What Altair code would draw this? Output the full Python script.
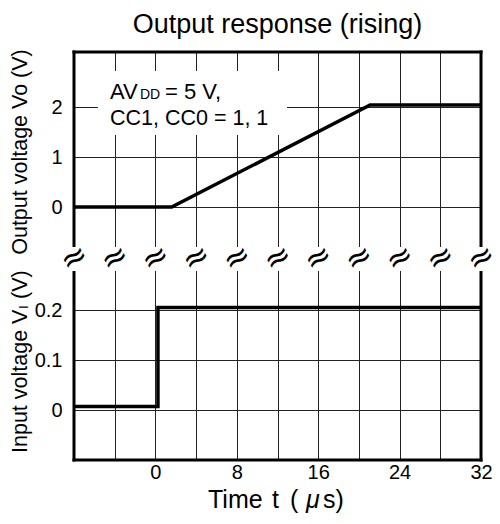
import altair as alt
import pandas as pd

# ---- data ----
t_out = [-8, 1.6, 21.1, 32]
v_out = [0.0, 0.0, 2.04, 2.04]
t_in = [-8, 0.25, 0.25, 32]
v_in = [0.007, 0.007, 0.205, 0.205]

x_grid = list(range(-8, 33, 4))
x_labels = [0, 8, 16, 24, 32]
out_ticks = [0, 1, 2]
out_tick_labels = ["0", "1", "2"]
in_ticks = [0, 0.1, 0.2]
in_tick_labels = ["0", "0.1", "0.2"]

# broken axis: upper panel in volts, lower panel scaled x10 and shifted
IN_OFFSET = -4.06
IN_GAIN = 10
Y_DOMAIN = [-5.06, 3.1]
X_DOMAIN = [-8, 32]

def to_y_in(v):
    return round(IN_OFFSET + v * IN_GAIN, 6)

FONT = "Liberation Sans"

out_df = pd.DataFrame({"t": t_out, "Y": v_out, "i": range(len(t_out))})
in_df = pd.DataFrame({"t": t_in, "Y": [to_y_in(v) for v in v_in], "i": range(len(t_in))})
one = pd.DataFrame({"k": [0]})

y_vals = [float(v) for v in out_ticks] + [to_y_in(v) for v in in_ticks]
y_labs = out_tick_labels + in_tick_labels
label_expr = ""
for v, l in zip(y_vals, y_labs):
    label_expr += f"abs(datum.value - ({v})) < 1e-6 ? '{l}' : "
label_expr += "''"

xs = alt.Scale(domain=X_DOMAIN, nice=False, zero=False)
ys = alt.Scale(domain=Y_DOMAIN, nice=False, zero=False)

x_axis = alt.Axis(
    values=x_grid, grid=True, gridColor="#222", gridWidth=1, domain=False, ticks=False,
    labelExpr="indexof([" + ",".join(str(v) for v in x_labels) + "], datum.value) >= 0 ? datum.label : ''",
    labelFont=FONT, labelFontSize=20, labelColor="#000", labelPadding=2, labelFlush=False,
    title=None,
)
y_axis = alt.Axis(
    values=y_vals, grid=True, gridColor="#222", gridWidth=1, domain=False, ticks=False,
    labelExpr=label_expr, labelFont=FONT, labelFontSize=20, labelColor="#000",
    labelPadding=12, title=None,
)

base_grid = alt.Chart(out_df).mark_line(opacity=0).encode(
    x=alt.X("t:Q", scale=xs, axis=x_axis),
    y=alt.Y("Y:Q", scale=ys, axis=y_axis),
)

line_out = alt.Chart(out_df).mark_line(color="#000", strokeWidth=3.5).encode(
    x=alt.X("t:Q", scale=xs), y=alt.Y("Y:Q", scale=ys), order="i:Q"
)
line_in = alt.Chart(in_df).mark_line(color="#000", strokeWidth=3.5).encode(
    x=alt.X("t:Q", scale=xs), y=alt.Y("Y:Q", scale=ys), order="i:Q"
)

frame_df = pd.DataFrame({
    "x": [X_DOMAIN[0], X_DOMAIN[1], X_DOMAIN[0], X_DOMAIN[0]],
    "x2": [X_DOMAIN[0], X_DOMAIN[1], X_DOMAIN[1], X_DOMAIN[1]],
    "y": [Y_DOMAIN[0], Y_DOMAIN[0], Y_DOMAIN[1], Y_DOMAIN[0]],
    "y2": [Y_DOMAIN[1], Y_DOMAIN[1], Y_DOMAIN[1], Y_DOMAIN[0]],
})
frame = alt.Chart(frame_df).mark_rule(color="#000", strokeWidth=3, strokeCap="square").encode(
    x=alt.X("x:Q", scale=xs), x2="x2:Q", y=alt.Y("y:Q", scale=ys), y2="y2:Q"
)

band = alt.Chart(one).mark_rect(color="white").encode(
    x=alt.value(-4), x2=alt.value(411),
    y=alt.Y(datum=-0.8, scale=ys), y2=alt.Y2(datum=-1.28),
)

sq_df = pd.DataFrame({"t": x_grid})
squig = alt.Chart(sq_df).mark_text(
    text="≈", font="DejaVu Sans", fontSize=32, angle=330, color="#000", baseline="middle"
).encode(x=alt.X("t:Q", scale=xs), y=alt.Y(datum=-1.02, scale=ys))

box = alt.Chart(one).mark_rect(color="white").encode(
    x=alt.value(24), x2=alt.value(213), y=alt.value(19), y2=alt.value(83)
)

def txt(s, x, y, size=22, style="normal"):
    return alt.Chart(one).mark_text(
        text=s, font=FONT, fontSize=size, align="left", baseline="alphabetic",
        color="#000", fontStyle=style,
    ).encode(x=alt.value(x), y=alt.value(y))

ann = [
    txt("AV", 36, 47),
    txt("DD", 66, 47, size=14),
    txt("= 5 V,", 91, 47),
    txt("CC1, CC0 = 1, 1", 36, 73, size=21.5),
]

# x axis title "Time t ( μs)" with italic mu
TY = 456
xtitle = [
    txt("Time", 134, TY, size=25),
    txt("t", 198, TY, size=25),
    txt("(", 216, TY, size=25),
    txt("μ", 232, TY, size=25, style="italic"),
    txt("s)", 249, TY, size=25),
]

ytitle_up = alt.Chart(one).mark_text(
    text="Output voltage Vo (V)", font=FONT, fontSize=21.5, angle=270,
    align="center", baseline="middle", color="#000",
).encode(x=alt.value(-53), y=alt.value(100))

def rot(s, x, y, size=21.5):
    return alt.Chart(one).mark_text(
        text=s, font=FONT, fontSize=size, angle=270, align="left", baseline="middle", color="#000"
    ).encode(x=alt.value(x), y=alt.value(y))

ytitle_in = [
    rot("Input voltage V", -53, 401),
    rot("I", -50, 257, size=13),
    rot("(V)", -53, 247),
]

chart = alt.layer(
    base_grid, line_out, line_in, frame, band, squig, box, *ann, *xtitle, ytitle_up, *ytitle_in
).properties(
    width=407, height=408,
    title=alt.TitleParams("Output response (rising)", font=FONT, fontSize=27,
                          fontWeight="normal", color="#000", anchor="middle", offset=10),
    autosize=alt.AutoSizeParams(type="none"),
    padding={"left": 66, "top": 44, "right": 11, "bottom": 53},
).configure_view(stroke=None).configure(background="white")

chart.save("out.html", embed_options={"renderer": "svg", "actions": False})
